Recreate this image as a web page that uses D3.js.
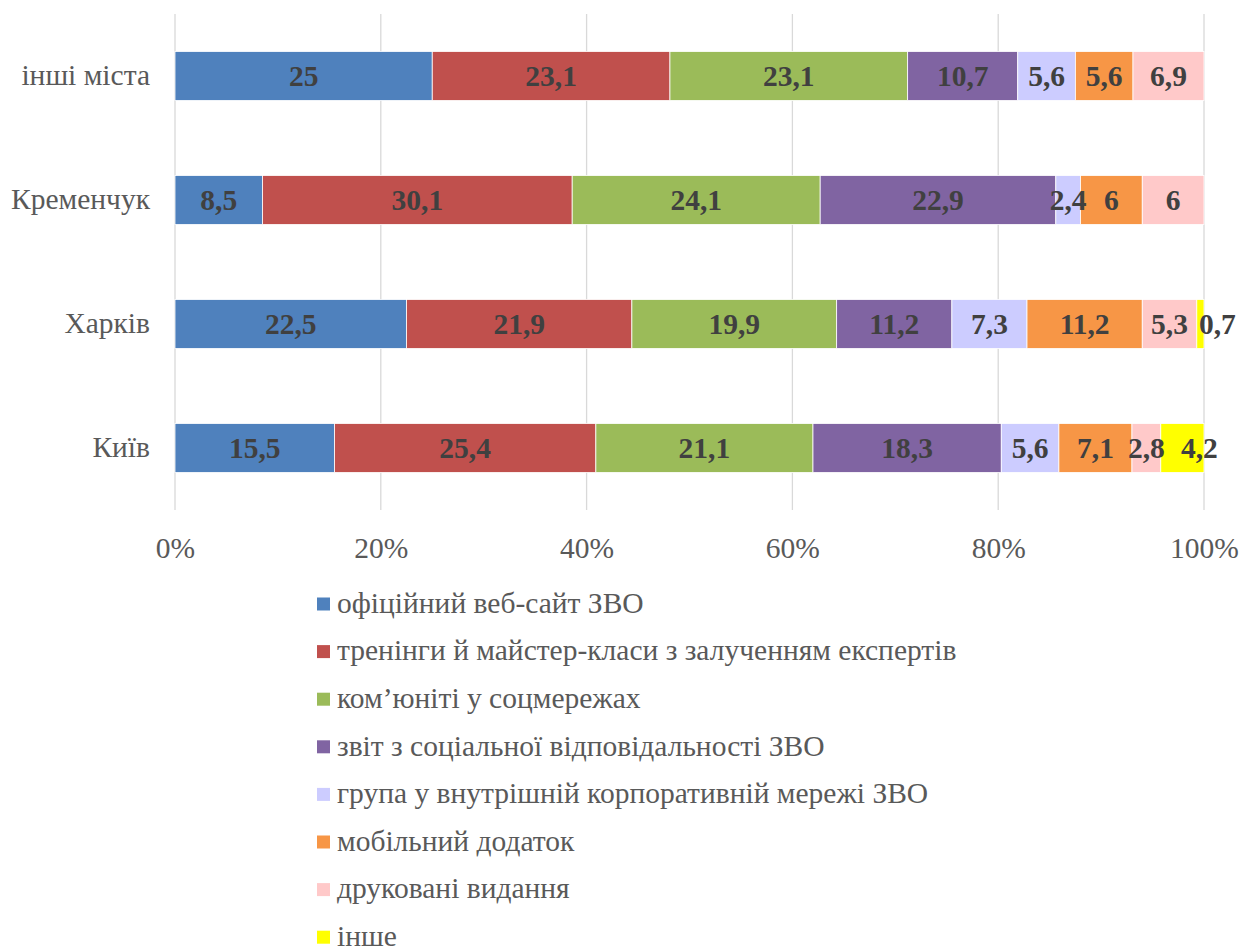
<!DOCTYPE html>
<html>
<head>
<meta charset="utf-8">
<script src="https://cdn.jsdelivr.net/npm/d3@7"></script>
</head>
<body style="margin:0">
<svg id="chart" width="1240" height="950"></svg>
<script>
// Cities, top to bottom
const categories = ["інші міста", "Кременчук", "Харків", "Київ"];

// Channel names (stack order, left to right)
const seriesNames = [
  "офіційний веб-сайт ЗВО",
  "тренінги й майстер-класи з залученням експертів",
  "ком’юніті у соцмережах",
  "звіт з соціальної відповідальності ЗВО",
  "група у внутрішній корпоративній мережі ЗВО",
  "мобільний додаток",
  "друковані видання",
  "інше"
];

// Shares per city, %, in the order of seriesNames
const valuesOther      = [25, 23.1, 23.1, 10.7, 5.6, 5.6, 6.9, 0];
const valuesKremenchuk = [8.5, 30.1, 24.1, 22.9, 2.4, 6, 6, 0];
const valuesKharkiv    = [22.5, 21.9, 19.9, 11.2, 7.3, 11.2, 5.3, 0.7];
const valuesKyiv       = [15.5, 25.4, 21.1, 18.3, 5.6, 7.1, 2.8, 4.2];

const tickValues = [0, 0.2, 0.4, 0.6, 0.8, 1];

const colors = ["#4F81BD", "#C0504D", "#9BBB59", "#8064A2", "#CCCCFF", "#F79646", "#FFC9C9", "#FFFF00"];

const FONT = '"Liberation Serif"';
const FS = 29.5;

const rows = [valuesOther, valuesKremenchuk, valuesKharkiv, valuesKyiv];
const table = categories.map((c, i) => {
  const o = { city: c };
  seriesNames.forEach((s, j) => o[s] = rows[i][j]);
  return o;
});

const stacked = d3.stack().keys(seriesNames).offset(d3.stackOffsetExpand)(table);

const svg = d3.select("#chart");
const plotLeft = 175, plotRight = 1204, plotTop = 14, plotBottom = 510;

const x = d3.scaleLinear().domain([0, 1]).range([plotLeft, plotRight]);
const y = d3.scaleBand().domain(categories).range([plotTop, plotBottom]).paddingInner(0.605).paddingOuter(0.3025);

// Shared text styling
function serif(sel, weight) {
  sel.attr("font-family", "Liberation Serif")
    .style("font-family", FONT)
    .style("font-size", FS + "px")
    .style("font-weight", weight || "normal");
  return sel;
}

// Vertical gridlines
svg.append("g")
  .selectAll("line")
  .data(tickValues)
  .join("line")
  .attr("x1", d => x(d)).attr("x2", d => x(d))
  .attr("y1", plotTop).attr("y2", plotBottom)
  .attr("stroke", "#d9d9d9").attr("stroke-width", 1.3);

// X axis labels
const xAxis = d3.axisBottom(x).tickValues(tickValues).tickFormat(d3.format(".0%")).tickSize(0).tickPadding(0);
const gx = svg.append("g").attr("transform", `translate(0,${plotBottom + 48})`).call(xAxis);
gx.attr("font-family", "Liberation Serif").attr("font-size", FS);
gx.select(".domain").remove();
gx.selectAll("text").call(serif).attr("fill", "#595959").attr("dy", "0");

// Y axis labels
const yAxis = d3.axisLeft(y).tickSize(0).tickPadding(25);
const gy = svg.append("g").attr("transform", `translate(${plotLeft},0)`).call(yAxis);
gy.attr("font-family", "Liberation Serif").attr("font-size", FS);
gy.select(".domain").remove();
gy.selectAll("text").call(serif).attr("fill", "#595959").attr("dy", "0.32em");

// Stacked segments
const layers = svg.append("g").selectAll("g")
  .data(stacked)
  .join("g")
  .attr("fill", (d, i) => colors[i]);

layers.selectAll("rect")
  .data(d => d.filter(p => p.data[d.key] > 0))
  .join("rect")
  .attr("x", p => x(p[0]))
  .attr("width", p => x(p[1]) - x(p[0]))
  .attr("y", p => y(p.data.city))
  .attr("height", y.bandwidth())
  .attr("stroke", "#ffffff").attr("stroke-width", 0.8);

// Value labels, drawn above all segments (the last series' labels sit a little to the right)
const fmt = v => String(v).replace(".", ",");
const labelPoints = stacked.flatMap((layer, li) =>
  layer.filter(p => p.data[layer.key] > 0).map(p => ({ p, li, v: p.data[layer.key] })));

svg.append("g")
  .selectAll("text")
  .data(labelPoints)
  .join("text")
  .attr("x", d => (x(d.p[0]) + x(d.p[1])) / 2 + (d.li === seriesNames.length - 1 ? 17 : 0))
  .attr("y", d => y(d.p.data.city) + y.bandwidth() / 2)
  .attr("dy", "0.35em")
  .attr("text-anchor", "middle")
  .call(serif, "bold")
  .attr("fill", "#404040")
  .text(d => fmt(d.v));

// Legend
const legend = svg.append("g").attr("transform", "translate(317,604)");
const item = legend.selectAll("g")
  .data(seriesNames)
  .join("g")
  .attr("transform", (d, i) => `translate(0,${i * 47.6})`);
item.append("rect")
  .attr("x", 0).attr("y", -6.5).attr("width", 13).attr("height", 13)
  .attr("fill", (d, i) => colors[i]);
item.append("text")
  .attr("x", 20).attr("y", 0).attr("dy", "0.3em")
  .call(serif)
  .attr("fill", "#595959")
  .text(d => d);
</script>
</body>
</html>
